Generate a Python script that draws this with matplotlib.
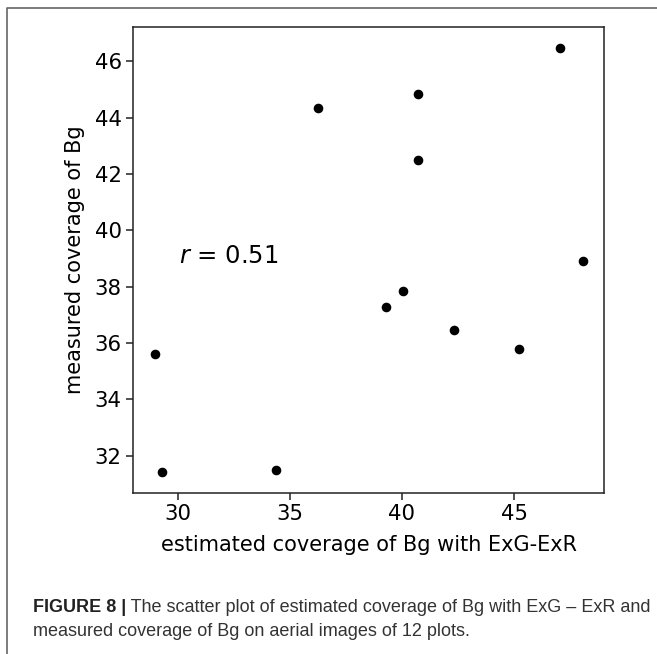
import matplotlib
matplotlib.use("Agg")
from matplotlib import pyplot as plt
from matplotlib.lines import Line2D

# estimated (ExG-ExR) vs measured coverage of Bg, 12 plots
estimated = [36.24, 40.70, 40.73, 40.03, 39.28, 28.97, 42.34, 48.07, 45.21, 29.28, 34.39, 47.04]
measured = [44.35, 44.84, 42.49, 37.84, 37.28, 35.62, 36.45, 38.90, 35.80, 31.44, 31.48, 46.48]
r_value = 0.51

xlabel = "estimated coverage of Bg with ExG-ExR"
ylabel = "measured coverage of Bg"
caption_bold = "FIGURE 8 |"
caption_line1 = " The scatter plot of estimated coverage of Bg with ExG \u2013 ExR and"
caption_line2 = "measured coverage of Bg on aerial images of 12 plots."

W, H = 657, 654
fig = plt.figure(figsize=(W / 100, H / 100), dpi=100)
ax = fig.add_axes([133.3 / W, 1 - 492.7 / H, (604.3 - 133.3) / W, (492.7 - 26.7) / H])

ax.scatter(estimated, measured, s=35, color="black", zorder=3)
ax.text(30.05, 38.86, "$r$ = %.2f" % r_value, fontsize=17.5, va="baseline", ha="left")

ax.set_xticks([30, 35, 40, 45])
ax.set_yticks([32, 34, 36, 38, 40, 42, 44, 46])
ax.tick_params(labelsize=15.3, length=4.8, width=1.1, color="#222222")
for sp in ax.spines.values():
    sp.set_linewidth(1.1)
    sp.set_color("#222222")
ax.set_xlabel(xlabel, fontsize=15, labelpad=8)
ax.set_ylabel(ylabel, fontsize=15, labelpad=7)

# page frame (left and top edge)
frame = Line2D([7 / W, 7 / W, 1.0], [0.0, 1 - 8 / H, 1 - 8 / H],
               transform=fig.transFigure, color="#666666", linewidth=1.2)
fig.add_artist(frame)

cap_font = ["Liberation Sans Narrow", "Liberation Sans", "DejaVu Sans"]
t1 = fig.text(33 / W, 1 - 612.5 / H, caption_bold, fontsize=13, fontweight="bold",
              family=cap_font, color="#222222", va="baseline")
fig.canvas.draw()
bb = t1.get_window_extent(fig.canvas.get_renderer())
fig.text(bb.x1 / W, 1 - 612.5 / H, caption_line1, fontsize=13,
         family=cap_font, color="#333333", va="baseline")
fig.text(33 / W, 1 - 636 / H, caption_line2, fontsize=13,
         family=cap_font, color="#333333", va="baseline")

fig.savefig("out.png", dpi=100)
